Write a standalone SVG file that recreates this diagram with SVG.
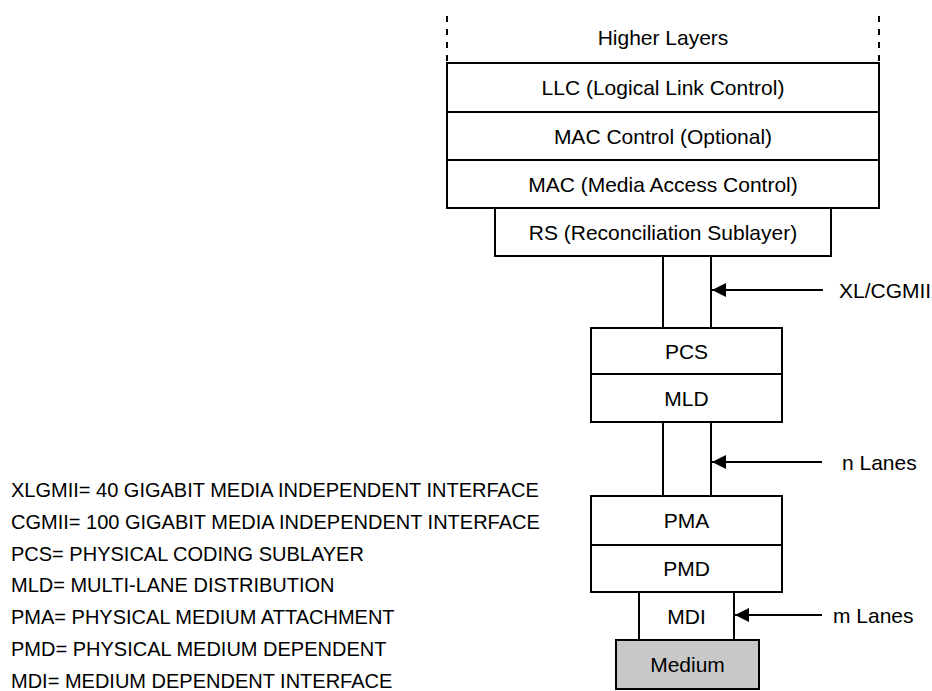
<svg xmlns="http://www.w3.org/2000/svg" width="932" height="691" viewBox="0 0 932 691">
<style>
.box{fill:#ffffff;stroke:#000000;stroke-width:2}
.med{fill:#c8c8c8;stroke:#000000;stroke-width:2}
.t{font-family:"Liberation Sans",Arial,sans-serif;font-size:21px;fill:#000000;text-anchor:middle}
.lbl{font-family:"Liberation Sans",Arial,sans-serif;font-size:21px;fill:#000000}
.leg{font-family:"Liberation Sans",Arial,sans-serif;font-size:20px;fill:#000000}
.ln{stroke:#000000;stroke-width:2;fill:none}
.dash{stroke:#000000;stroke-width:2;stroke-dasharray:6,7;fill:none}
</style>
<defs>
<marker id="ah" markerWidth="14" markerHeight="14" viewBox="0 0 14 14" refX="14" refY="7" orient="auto" markerUnits="userSpaceOnUse">
<path d="M0,0 L14,7 L0,14 Z" fill="#000000"/>
</marker>
</defs>
<rect width="932" height="691" fill="#ffffff"/>
<g id="higher-layers">
<line class="dash" x1="447" y1="16" x2="447" y2="63"/>
<line class="dash" x1="879" y1="16" x2="879" y2="63"/>
<text class="t" x="663" y="45">Higher Layers</text>
</g>
<g id="llc">
<rect class="box" x="447" y="63" width="432" height="49"/>
<text class="t" x="663" y="95">LLC (Logical Link Control)</text>
</g>
<g id="mac-control">
<rect class="box" x="447" y="112" width="432" height="48"/>
<text class="t" x="663" y="143.5">MAC Control (Optional)</text>
</g>
<g id="mac">
<rect class="box" x="447" y="160" width="432" height="48"/>
<text class="t" x="663" y="191.5">MAC (Media Access Control)</text>
</g>
<g id="rs">
<rect class="box" x="495" y="208" width="336" height="48"/>
<text class="t" x="663" y="239.5">RS (Reconciliation Sublayer)</text>
</g>
<g id="pcs">
<rect class="box" x="591" y="328" width="191" height="46"/>
<text class="t" x="686.5" y="358.5">PCS</text>
</g>
<g id="mld">
<rect class="box" x="591" y="374" width="191" height="48"/>
<text class="t" x="686.5" y="405.5">MLD</text>
</g>
<g id="pma">
<rect class="box" x="591" y="496" width="191" height="49"/>
<text class="t" x="686.5" y="528">PMA</text>
</g>
<g id="pmd">
<rect class="box" x="591" y="545" width="191" height="47"/>
<text class="t" x="686.5" y="576">PMD</text>
</g>
<g id="mdi">
<rect class="box" x="639" y="592" width="95" height="48"/>
<text class="t" x="686.5" y="623.5">MDI</text>
</g>
<g id="medium">
<rect class="med" x="616" y="640" width="143" height="49"/>
<text class="t" x="687.5" y="672">Medium</text>
</g>
<g id="connectors">
<line class="ln" x1="663" y1="256" x2="663" y2="328"/>
<line class="ln" x1="711" y1="256" x2="711" y2="328"/>
<line class="ln" x1="663" y1="422" x2="663" y2="496"/>
<line class="ln" x1="711" y1="422" x2="711" y2="496"/>
<line class="ln" x1="823" y1="290" x2="712" y2="290" marker-end="url(#ah)"/>
<line class="ln" x1="822" y1="462" x2="712" y2="462" marker-end="url(#ah)"/>
<line class="ln" x1="822" y1="615" x2="735" y2="615" marker-end="url(#ah)"/>
</g>
<g id="labels">
<text class="lbl" x="839" y="297.5">XL/CGMII</text>
<text class="lbl" x="842" y="469.5">n Lanes</text>
<text class="lbl" x="833" y="622.5">m Lanes</text>
</g>
<g id="legend">
<text class="leg" x="11" y="497">XLGMII= 40 GIGABIT MEDIA INDEPENDENT INTERFACE</text>
<text class="leg" x="11" y="528.8">CGMII= 100 GIGABIT MEDIA INDEPENDENT INTERFACE</text>
<text class="leg" x="11" y="560.6">PCS= PHYSICAL CODING SUBLAYER</text>
<text class="leg" x="11" y="592.4">MLD= MULTI-LANE DISTRIBUTION</text>
<text class="leg" x="11" y="624.2">PMA= PHYSICAL MEDIUM ATTACHMENT</text>
<text class="leg" x="11" y="656">PMD= PHYSICAL MEDIUM DEPENDENT</text>
<text class="leg" x="11" y="687.8">MDI= MEDIUM DEPENDENT INTERFACE</text>
</g>
</svg>
